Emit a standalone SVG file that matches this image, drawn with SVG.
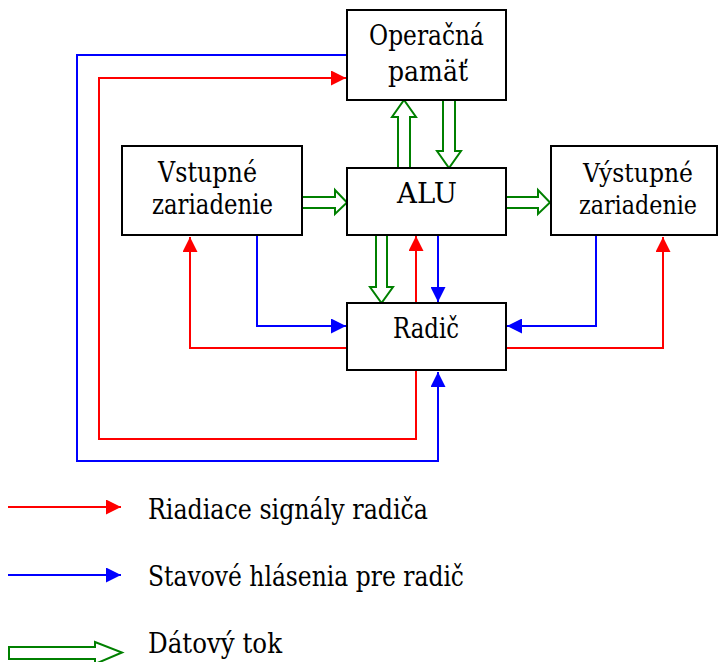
<svg xmlns="http://www.w3.org/2000/svg" width="720" height="662" viewBox="0 0 720 662">
<defs>
<style>
.box{fill:#fff;stroke:#000;stroke-width:2}
.red{fill:none;stroke:#ff0000;stroke-width:2}
.blue{fill:none;stroke:#0000ff;stroke-width:2}
.data{fill:#fff;stroke:#008000;stroke-width:2}
text{font-family:"DejaVu Serif",serif;font-size:27px;fill:#000}
.m{text-anchor:middle}
</style>
<marker id="ar" markerUnits="userSpaceOnUse" markerWidth="16" markerHeight="15" refX="15" refY="7.5" orient="auto"><path d="M0,0 L15,7.5 L0,15 z" fill="#ff0000"/></marker>
<marker id="ab" markerUnits="userSpaceOnUse" markerWidth="16" markerHeight="15" refX="15" refY="7.5" orient="auto"><path d="M0,0 L15,7.5 L0,15 z" fill="#0000ff"/></marker>
</defs>
<rect width="720" height="662" fill="#fff"/>
<g id="connectors">
<path class="blue" d="M347,55 H77 V461 H438 V372" marker-end="url(#ab)"/>
<path class="red" d="M416,371 V439 H99 V78 H346" marker-end="url(#ar)"/>
<path class="blue" d="M257,236 V326 H346" marker-end="url(#ab)"/>
<path class="red" d="M347,348 H190 V237" marker-end="url(#ar)"/>
<path class="blue" d="M596,236 V326 H507" marker-end="url(#ab)"/>
<path class="red" d="M506,348 H663 V237" marker-end="url(#ar)"/>
<path class="red" d="M416,303 V236" marker-end="url(#ar)"/>
<path class="blue" d="M438,235 V302" marker-end="url(#ab)"/>
<polygon class="data" points="398,168 398,117 392,117 404,100 416,117 410,117 410,168"/>
<polygon class="data" points="443,100 443,151 437,151 449,168 461,151 455,151 455,100"/>
<polygon class="data" points="376,235 376,287 370,287 381.5,303 393,287 387,287 387,235"/>
<polygon class="data" points="302,197 335,197 335,190 347,202.5 335,214 335,208 302,208"/>
<polygon class="data" points="506,197 538,197 538,190 550,202.5 538,214 538,208 506,208"/>
</g>
<g id="mem"><rect class="box" x="347" y="10" width="159" height="90"/>
<text class="m" x="426.5" y="45" textLength="115" lengthAdjust="spacingAndGlyphs">Operačná</text><text class="m" x="428" y="81" textLength="80" lengthAdjust="spacingAndGlyphs">pamäť</text></g>
<g id="alu"><rect class="box" x="347" y="168" width="159" height="67"/>
<text class="m" x="427" y="203" textLength="60" lengthAdjust="spacingAndGlyphs">ALU</text></g>
<g id="in"><rect class="box" x="122" y="146" width="180" height="89"/>
<text class="m" x="207.5" y="182" textLength="99" lengthAdjust="spacingAndGlyphs">Vstupné</text><text class="m" x="212.5" y="214" textLength="121" lengthAdjust="spacingAndGlyphs">zariadenie</text></g>
<g id="out"><rect class="box" x="551" y="146" width="166" height="89"/>
<text class="m" x="638" y="182" font-size="26" style="font-size:26px" textLength="110" lengthAdjust="spacingAndGlyphs">Výstupné</text><text class="m" x="638" y="214" style="font-size:26px" textLength="118" lengthAdjust="spacingAndGlyphs">zariadenie</text></g>
<g id="ctrl"><rect class="box" x="347" y="303" width="159" height="67"/>
<text class="m" x="426" y="338" textLength="66" lengthAdjust="spacingAndGlyphs">Radič</text></g>
<g id="legend">
<path class="red" d="M8,507 H121" marker-end="url(#ar)"/>
<path class="blue" d="M8,575 H121" marker-end="url(#ab)"/>
<polygon class="data" points="9,647 95,647 95,642 122,652.5 95,664 95,659 9,659"/>
<text x="148" y="519" textLength="280" lengthAdjust="spacingAndGlyphs">Riadiace signály radiča</text>
<text x="148" y="586" textLength="316" lengthAdjust="spacingAndGlyphs">Stavové hlásenia pre radič</text>
<text x="148" y="653" textLength="134" lengthAdjust="spacingAndGlyphs">Dátový tok</text>
</g>
</svg>
